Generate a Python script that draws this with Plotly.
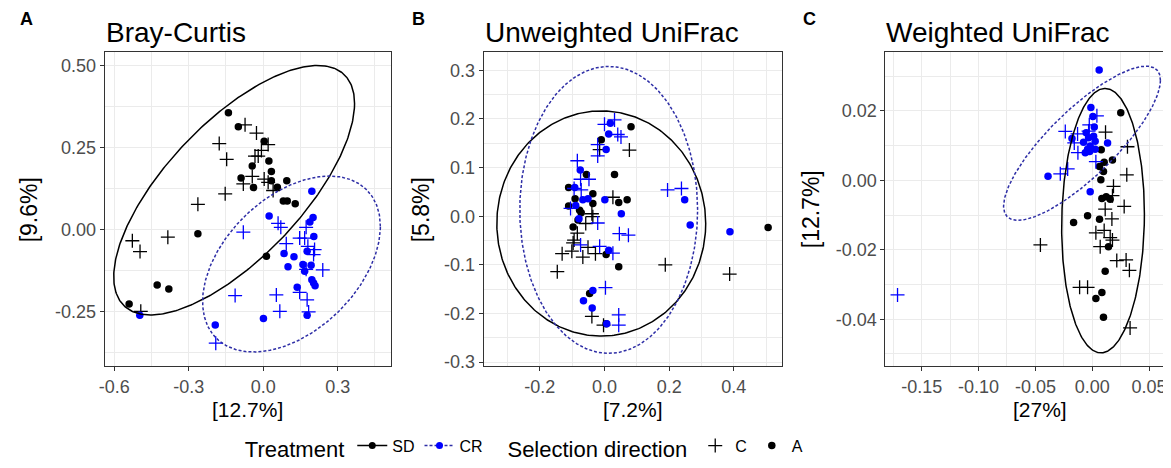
import numpy as np
import plotly.graph_objects as go

# page geometry: the browser page has an 8px body margin, so the figure is sized to fit
PAGE_W, PAGE_H = 1171, 468
OFF = 8
W, H = PAGE_W - OFF, PAGE_H - OFF
BLACK = "#000000"
BLUE = "#0000FF"
ELL_BLUE = "#2E2EA6"
FONT = "Liberation Sans, Arial, sans-serif"

# ---------------- Panel A: Bray-Curtis ----------------
bc_sd_A_x = [-0.14, -0.10, 0.004, 0.023, -0.044, 0.033, -0.089, 0.033, 0.095, -0.039,
             0.057, 0.081, 0.097, 0.129, -0.263, 0.013, -0.427, -0.38, -0.54]
bc_sd_A_y = [0.356, 0.313, 0.269, 0.209, 0.194, 0.177, 0.157, 0.149, 0.149, 0.128,
             0.129, 0.087, 0.087, 0.079, -0.013, -0.081, -0.169, -0.181, -0.227]
bc_sd_C_x = [-0.073, -0.027, -0.177, 0.02, -0.007, -0.033, -0.02, -0.147, -0.044, 0.004,
             -0.08, 0.02, 0.04, -0.153, -0.263, -0.384, -0.527, -0.496, -0.493]
bc_sd_C_y = [0.319, 0.294, 0.262, 0.259, 0.241, 0.224, 0.224, 0.214, 0.162, 0.154,
             0.139, 0.144, 0.119, 0.109, 0.077, -0.023, -0.034, -0.067, -0.249]
bc_cr_A_x = [0.196, 0.024, 0.201, 0.188, 0.204, 0.084, 0.124, 0.177, 0.10, 0.16,
             0.193, 0.167, 0.196, 0.203, 0.209, 0.137, 0.177, 0.001, -0.193, -0.497]
bc_cr_A_y = [0.117, 0.041, 0.037, 0.023, -0.021, -0.073, -0.083, -0.066, -0.113, -0.106,
             -0.109, -0.127, -0.153, -0.163, -0.171, -0.176, -0.261, -0.271, -0.291, -0.261]
bc_cr_C_x = [0.06, 0.071, 0.173, -0.08, 0.147, 0.167, 0.093, 0.18, 0.207, 0.203,
             0.24, 0.173, -0.113, 0.053, 0.147, 0.177, 0.067, 0.183, -0.191]
bc_cr_C_y = [0.019, 0.007, 0.007, -0.008, -0.026, -0.026, -0.043, -0.051, -0.061, -0.076,
             -0.123, -0.121, -0.201, -0.199, -0.191, -0.214, -0.249, -0.251, -0.346]

# ---------------- Panel B: Unweighted UniFrac ----------------
uu_sd_A_x = [0.082, -0.010, -0.056, 0.031, -0.111, -0.091, -0.036, -0.111, -0.036, 0.044,
             0.070, -0.077, -0.072, -0.082, -0.097, 0.005, 0.044, -0.046, 0.005, 0.506]
uu_sd_A_y = [0.184, 0.157, 0.086, 0.086, 0.059, 0.036, 0.046, 0.021, 0.026, 0.028,
             0.034, 0.012, 0.007, -0.008, -0.022, -0.079, -0.104, -0.159, -0.221, -0.023]
uu_sd_C_x = [0.077, -0.015, 0.026, -0.039, -0.036, -0.058, -0.084, -0.094, -0.097, -0.051,
             -0.101, -0.131, -0.067, -0.028, -0.146, 0.188, 0.387, -0.039, -0.003]
uu_sd_C_y = [0.136, 0.137, 0.039, 0.005, -0.001, -0.015, -0.035, -0.049, -0.055, -0.064,
             -0.072, -0.077, -0.084, -0.077, -0.114, -0.100, -0.119, -0.206, -0.224]
uu_cr_A_x = [0.018, 0.013, 0.005, -0.075, -0.092, -0.067, -0.051, -0.089, 0.001, -0.079,
             0.052, 0.248, 0.265, 0.388, 0.013, -0.036, -0.065, -0.038, 0.007]
uu_cr_A_y = [0.191, 0.169, 0.137, 0.095, 0.059, 0.034, 0.036, 0.022, 0.034, -0.005,
             0.005, 0.034, -0.018, -0.032, -0.070, -0.153, -0.174, -0.189, -0.221]
uu_cr_C_x = [0.031, 0.0, 0.041, 0.051, -0.021, -0.021, -0.084, -0.074, -0.048, -0.094,
             -0.072, -0.105, -0.021, 0.046, 0.074, -0.074, -0.015, 0.026, 0.195, 0.238,
             0.003, 0.044, 0.044]
uu_cr_C_y = [0.198, 0.189, 0.168, 0.163, 0.147, 0.124, 0.114, 0.076, 0.076, 0.057,
             0.054, 0.016, -0.014, -0.036, -0.039, -0.059, -0.062, -0.076, 0.054, 0.057,
             -0.147, -0.203, -0.224]

# ---------------- Panel C: Weighted UniFrac ----------------
wu_sd_A_x = [0.0251, 0.0079, 0.0178, 0.0105, 0.0064, 0.0099, 0.0076, 0.0085, 0.0123, 0.0158,
             -0.0041, -0.0164, 0.0064, 0.0143, 0.0114, 0.0085, 0.0032, 0.0099]
wu_sd_A_y = [0.0195, 0.0088, 0.0059, 0.0052, 0.0040, 0.0026, 0.0002, -0.0052, -0.0047, -0.0054,
             -0.0102, -0.0121, -0.0112, -0.0191, -0.0262, -0.0323, -0.0340, -0.0394]
wu_sd_C_x = [0.0117, 0.0310, 0.0304, 0.0187, 0.0178, 0.0281, 0.0114, 0.0173, 0.0032, 0.0105,
             0.0158, 0.0178, 0.0070, -0.0456, 0.0216, 0.0298, 0.0327, -0.0111, -0.0041, 0.0333]
wu_sd_C_y = [0.0139, 0.0097, 0.0016, -0.0017, -0.0044, -0.0075, -0.0083, -0.0111, -0.0151, -0.0144,
             -0.0165, -0.0172, -0.0191, -0.0186, -0.0231, -0.0229, -0.0259, -0.0308, -0.0308, -0.0425]
wu_cr_A_x = [0.0061, -0.0012, 0.0006, 0.0018, -0.0053, -0.0032, -0.0178, 0.0012, 0.0026, 0.0135,
             -0.0076, -0.0018, -0.0041, 0.0026, -0.0061, -0.0023, -0.0389, -0.0018]
wu_cr_A_y = [0.0318, 0.0210, 0.0184, 0.0154, 0.0137, 0.0123, 0.0121, 0.0127, 0.0113, 0.0108,
             0.0110, 0.0099, 0.0090, 0.0090, 0.0080, 0.0083, 0.0012, -0.0033]
wu_cr_C_x = [0.0041, -0.0237, -0.0129, -0.0158, -0.0126, -0.0032, 0.0032, -0.0216, -0.0281, -0.0026,
             -0.1713]
wu_cr_C_y = [0.0186, 0.0141, 0.0134, 0.0108, 0.0080, 0.0142, 0.0054, 0.0033, 0.0019, 0.0160,
             -0.0330]

# 95% ellipse summaries: centre, sd-x, sd-y, covariance-like term
ell_bc_sd = dict(cx=-0.117, cy=0.12, sx=0.485, sy=0.38, cov=0.128)
ell_bc_cr = dict(cx=0.114, cy=-0.105, sx=0.358, sy=0.268, cov=0.041)
ell_uu_sd = dict(cx=-0.01, cy=-0.015, sx=0.323, sy=0.2315, cov=0.0)
ell_uu_cr = dict(cx=0.013, cy=0.013, sx=0.275, sy=0.295, cov=0.0)
ell_wu_sd = dict(cx=0.0095, cy=-0.0116, sx=0.0364, sy=0.0381, cov=0.00007)
ell_wu_cr = dict(cx=-0.009, cy=0.0107, sx=0.069, sy=0.0222, cov=0.00125)

titles = ["Bray-Curtis", "Unweighted UniFrac", "Weighted UniFrac"]
letters = ["A", "B", "C"]
x_titles = ["[12.7%]", "[7.2%]", "[27%]"]
y_titles = ["[9.6%]", "[5.8%]", "[12.7%]"]

# axis ticks
a_xt = [-0.6, -0.3, 0.0, 0.3]; a_xl = ["-0.6", "-0.3", "0.0", "0.3"]
a_yt = [-0.25, 0.0, 0.25, 0.5]; a_yl = ["-0.25", "0.00", "0.25", "0.50"]
b_xt = [-0.2, 0.0, 0.2, 0.4]; b_xl = ["-0.2", "0.0", "0.2", "0.4"]
b_yt = [-0.3, -0.2, -0.1, 0.0, 0.1, 0.2, 0.3]; b_yl = ["-0.3", "-0.2", "-0.1", "0.0", "0.1", "0.2", "0.3"]
c_xt = [-0.15, -0.10, -0.05, 0.0, 0.05]; c_xl = ["-0.15", "-0.10", "-0.05", "0.00", "0.05"]
c_yt = [-0.04, -0.02, 0.0, 0.02]; c_yl = ["-0.04", "-0.02", "0.00", "0.02"]


def ellipse(p, n=361):
    t = np.linspace(0, 2 * np.pi, n)
    l21 = p["cov"] / p["sx"]
    l22 = np.sqrt(p["sy"] ** 2 - l21 ** 2)
    return p["cx"] + p["sx"] * np.cos(t), p["cy"] + l21 * np.cos(t) + l22 * np.sin(t)


fig = go.Figure()

panels = [
    ("x", "y", bc_sd_A_x, bc_sd_A_y, bc_sd_C_x, bc_sd_C_y, bc_cr_A_x, bc_cr_A_y, bc_cr_C_x, bc_cr_C_y, ell_bc_sd, ell_bc_cr),
    ("x2", "y2", uu_sd_A_x, uu_sd_A_y, uu_sd_C_x, uu_sd_C_y, uu_cr_A_x, uu_cr_A_y, uu_cr_C_x, uu_cr_C_y, ell_uu_sd, ell_uu_cr),
    ("x3", "y3", wu_sd_A_x, wu_sd_A_y, wu_sd_C_x, wu_sd_C_y, wu_cr_A_x, wu_cr_A_y, wu_cr_C_x, wu_cr_C_y, ell_wu_sd, ell_wu_cr),
]

circ = lambda c: dict(symbol="circle", size=7.5, color=c, line=dict(width=0))
cross = lambda c: dict(symbol="cross-thin", size=10, color=c, line=dict(width=1.3, color=c))

for (xa, ya, sax, say, scx, scy, cax, cay, ccx, ccy, esd, ecr) in panels:
    for xs, ys, mk in [(sax, say, circ(BLACK)), (scx, scy, cross(BLACK)),
                       (cax, cay, circ(BLUE)), (ccx, ccy, cross(BLUE))]:
        fig.add_trace(go.Scatter(x=xs, y=ys, mode="markers", marker=mk, xaxis=xa, yaxis=ya,
                                 showlegend=False, hoverinfo="skip"))
    ex, ey = ellipse(esd)
    fig.add_trace(go.Scatter(x=ex, y=ey, mode="lines", line=dict(color=BLACK, width=1.5),
                             xaxis=xa, yaxis=ya, showlegend=False, hoverinfo="skip"))
    ex, ey = ellipse(ecr)
    fig.add_trace(go.Scatter(x=ex, y=ey, mode="lines", line=dict(color=ELL_BLUE, width=1.5, dash="3px,2px"),
                             xaxis=xa, yaxis=ya, showlegend=False, hoverinfo="skip"))

# legend entries
fig.add_trace(go.Scatter(x=[None], y=[None], mode="lines+markers", name="SD", legend="legend",
                         line=dict(color=BLACK, width=1.5), marker=dict(symbol="circle", size=7, color=BLACK)))
fig.add_trace(go.Scatter(x=[None], y=[None], mode="lines+markers", name="CR", legend="legend",
                         line=dict(color=ELL_BLUE, width=1.5, dash="3px,2px"),
                         marker=dict(symbol="circle", size=7, color=BLUE)))
fig.add_trace(go.Scatter(x=[None], y=[None], mode="markers", name="C", legend="legend2",
                         marker=cross(BLACK)))
fig.add_trace(go.Scatter(x=[None], y=[None], mode="markers", name="A", legend="legend2",
                         marker=circ(BLACK)))

# geometry (page pixels)
px_left = [99, 480, 884]
px_right = [387, 780, PAGE_W]
px_top, px_bot = 53, 372
xt_centre = [243, 630, 1039]
yt_x = [23, 417, 810]
letter_x = [12, 406, 799]

def fx(p):
    return (p - OFF) / W

def fy(p):
    return 1 - (p - OFF) / H

GRID = "#EBEBEB"
common = dict(showline=True, linecolor="#333333", linewidth=1, ticks="outside", ticklen=4,
              tickcolor="#333333", tickwidth=1, showgrid=True, gridcolor=GRID, gridwidth=1.1,
              zeroline=False, tickfont=dict(family=FONT, size=18, color="#4D4D4D"), tickmode="array")

def minor(vals):
    return dict(tickmode="array", tickvals=vals, showgrid=True, gridcolor=GRID, gridwidth=0.6, ticks="")

fig.update_layout(
    xaxis=dict(domain=[fx(px_left[0]), fx(px_right[0])], range=[-0.639, 0.515], tickvals=a_xt, ticktext=a_xl,
               anchor="y", mirror=True, minor=minor([-0.45, -0.15, 0.15, 0.45]), **common),
    yaxis=dict(domain=[fy(px_bot), fy(px_top)], range=[-0.417, 0.54], tickvals=a_yt, ticktext=a_yl,
               anchor="x", mirror=True, minor=minor([-0.375, -0.125, 0.125, 0.375]), **common),
    xaxis2=dict(domain=[fx(px_left[1]), fx(px_right[1])], range=[-0.374, 0.549], tickvals=b_xt, ticktext=b_xl,
                anchor="y2", mirror=True, minor=minor([-0.3, -0.1, 0.1, 0.3, 0.5]), **common),
    yaxis2=dict(domain=[fy(px_bot), fy(px_top)], range=[-0.309, 0.337], tickvals=b_yt, ticktext=b_yl,
                anchor="x2", mirror=True, minor=minor([-0.25, -0.15, -0.05, 0.05, 0.15, 0.25]), **common),
    xaxis3=dict(domain=[fx(px_left[2]), 1.0], range=[-0.1819, 0.0693], tickvals=c_xt, ticktext=c_xl,
                anchor="y3", mirror=True, minor=minor([-0.175, -0.125, -0.075, -0.025, 0.025, 0.075]), **common),
    yaxis3=dict(domain=[fy(px_bot), fy(px_top)], range=[-0.0536, 0.0369], tickvals=c_yt, ticktext=c_yl,
                anchor="x3", mirror=False, minor=minor([-0.05, -0.03, -0.01, 0.01, 0.03]), **common),
)

ann = []
for i in range(3):
    ann.append(dict(text=titles[i], x=fx(px_left[i] - 1), y=fy(33), xref="paper", yref="paper",
                    xanchor="left", yanchor="middle", showarrow=False,
                    font=dict(family=FONT, size=28, color="black")))
    ann.append(dict(text="<b>%s</b>" % letters[i], x=fx(letter_x[i]), y=fy(19), xref="paper", yref="paper",
                    xanchor="left", yanchor="middle", showarrow=False,
                    font=dict(family=FONT, size=18, color="black")))
    ann.append(dict(text=x_titles[i], x=fx(xt_centre[i]), y=fy(416), xref="paper", yref="paper",
                    xanchor="center", yanchor="middle", showarrow=False,
                    font=dict(family=FONT, size=21, color="black")))
    ann.append(dict(text=y_titles[i], x=fx(yt_x[i]), y=fy((px_top + px_bot) / 2), xref="paper", yref="paper",
                    xanchor="center", yanchor="middle", showarrow=False, textangle=-90,
                    font=dict(family=FONT, size=23, color="black")))

fig.update_layout(
    annotations=ann,
    width=W, height=H,
    margin=dict(l=0, r=0, t=0, b=0),
    paper_bgcolor="white", plot_bgcolor="white",
    font=dict(family=FONT),
    legend=dict(orientation="h", x=fx(238), y=fy(455), xanchor="left", yanchor="middle",
                title=dict(text="Treatment", side="left", font=dict(family=FONT, size=22, color="black")),
                font=dict(family=FONT, size=16, color="black"), itemwidth=30, bgcolor="rgba(0,0,0,0)"),
    legend2=dict(orientation="h", x=fx(502), y=fy(455), xanchor="left", yanchor="middle",
                 title=dict(text="Selection direction", side="left", font=dict(family=FONT, size=22, color="black")),
                 font=dict(family=FONT, size=16, color="black"), itemwidth=30, bgcolor="rgba(0,0,0,0)"),
)

fig.write_html("out.html")
